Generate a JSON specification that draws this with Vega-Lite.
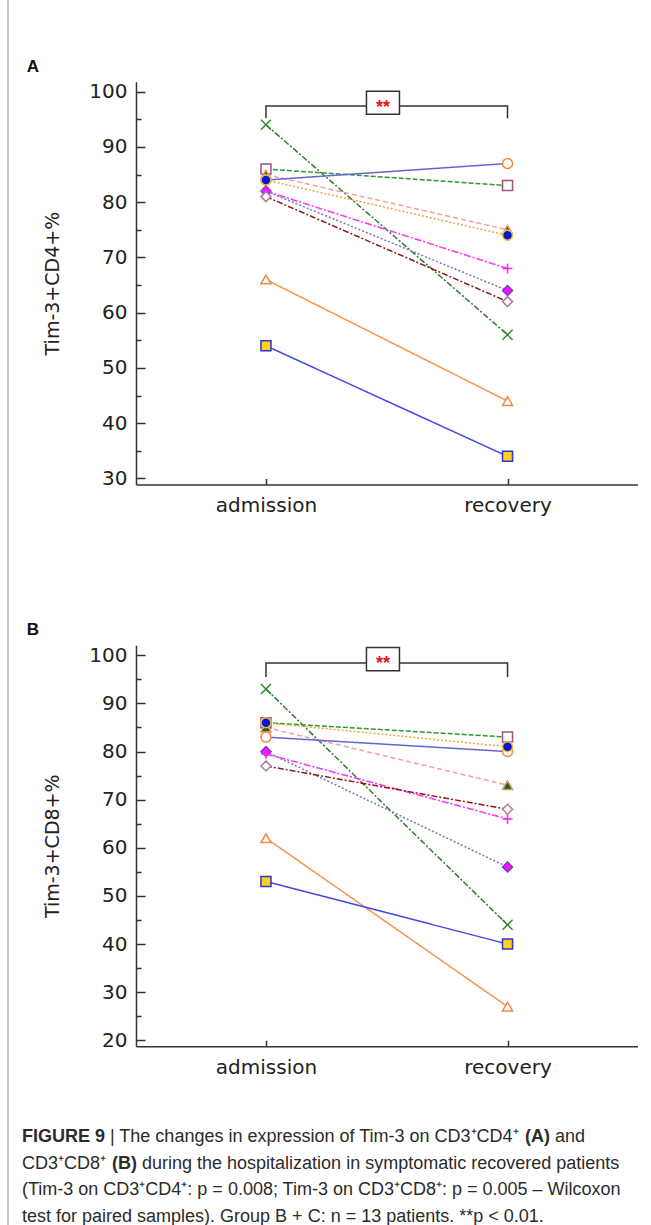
{
  "$schema": "https://vega.github.io/schema/vega-lite/v6.json",
  "width": 651,
  "height": 1225,
  "autosize": {"type": "none"},
  "padding": 0,
  "background": "white",
  "config": {"view": {"stroke": null}, "font": "Liberation Sans"},
  "datasets": {
    "A": [
      {"s": "s1", "time": "admission", "v": 94}, {"s": "s1", "time": "recovery", "v": 56},
      {"s": "s2", "time": "admission", "v": 86}, {"s": "s2", "time": "recovery", "v": 83},
      {"s": "s3", "time": "admission", "v": 85}, {"s": "s3", "time": "recovery", "v": 75},
      {"s": "s4", "time": "admission", "v": 84}, {"s": "s4", "time": "recovery", "v": 87},
      {"s": "s5", "time": "admission", "v": 84}, {"s": "s5", "time": "recovery", "v": 74},
      {"s": "s6", "time": "admission", "v": 82}, {"s": "s6", "time": "recovery", "v": 64},
      {"s": "s7", "time": "admission", "v": 82}, {"s": "s7", "time": "recovery", "v": 68},
      {"s": "s8", "time": "admission", "v": 81}, {"s": "s8", "time": "recovery", "v": 62},
      {"s": "s9", "time": "admission", "v": 66}, {"s": "s9", "time": "recovery", "v": 44},
      {"s": "s10", "time": "admission", "v": 54}, {"s": "s10", "time": "recovery", "v": 34}
    ],
    "B": [
      {"s": "s1", "time": "admission", "v": 93}, {"s": "s1", "time": "recovery", "v": 44},
      {"s": "s2", "time": "admission", "v": 86}, {"s": "s2", "time": "recovery", "v": 83},
      {"s": "s3", "time": "admission", "v": 85}, {"s": "s3", "time": "recovery", "v": 73},
      {"s": "s4", "time": "admission", "v": 83}, {"s": "s4", "time": "recovery", "v": 80},
      {"s": "s5", "time": "admission", "v": 86}, {"s": "s5", "time": "recovery", "v": 81},
      {"s": "s6", "time": "admission", "v": 80}, {"s": "s6", "time": "recovery", "v": 56},
      {"s": "s7", "time": "admission", "v": 79.5}, {"s": "s7", "time": "recovery", "v": 66},
      {"s": "s8", "time": "admission", "v": 77}, {"s": "s8", "time": "recovery", "v": 68},
      {"s": "s9", "time": "admission", "v": 62}, {"s": "s9", "time": "recovery", "v": 27},
      {"s": "s10", "time": "admission", "v": 53}, {"s": "s10", "time": "recovery", "v": 40}
    ],
    "bracketA": [
      {"i": 1, "time": "admission", "v": 95.2}, {"i": 2, "time": "admission", "v": 97.4},
      {"i": 3, "time": "recovery", "v": 97.4}, {"i": 4, "time": "recovery", "v": 95.2}
    ],
    "bracketB": [
      {"i": 1, "time": "admission", "v": 95.5}, {"i": 2, "time": "admission", "v": 98.4},
      {"i": 3, "time": "recovery", "v": 98.4}, {"i": 4, "time": "recovery", "v": 95.5}
    ],
    "starA": [{"time": "admission", "v": 98.0}],
    "starB": [{"time": "admission", "v": 99.2}],
    "cap": [
      {"seg": "L1a", "line": 1, "text": "FIGURE 9"},
      {"seg": "L1b", "line": 1, "text": "| The changes in expression of Tim-3 on CD3⁺CD4⁺"},
      {"seg": "L1c", "line": 1, "text": "(A)"},
      {"seg": "L1d", "line": 1, "text": "and"},
      {"seg": "L2a", "line": 2, "text": "CD3⁺CD8⁺"},
      {"seg": "L2b", "line": 2, "text": "(B)"},
      {"seg": "L2c", "line": 2, "text": "during the hospitalization in symptomatic recovered patients"},
      {"seg": "L3", "line": 3, "text": "(Tim-3 on CD3⁺CD4⁺: p = 0.008; Tim-3 on CD3⁺CD8⁺: p = 0.005 – Wilcoxon"},
      {"seg": "L4", "line": 4, "text": "test for paired samples). Group B + C: n = 13 patients. **p < 0.01."}
    ],
    "panels": [{"lab": "A", "pos": 1}, {"lab": "B", "pos": 2}]
  },
  "layer": [
    {
      "data": {"values": [{}]},
      "mark": {"type": "rule", "color": "#b0b0b0", "strokeWidth": 1.5},
      "encoding": {"x": {"value": 8}}
    },
    {
      "data": {"name": "panels"},
      "mark": {"type": "text", "fontWeight": "bold", "fontSize": 17, "align": "center", "baseline": "middle", "color": "#111"},
      "encoding": {
        "x": {"value": 33},
        "y": {"field": "pos", "type": "quantitative", "scale": {"domain": [1, 2], "range": [67, 630]}, "axis": null},
        "text": {"field": "lab"}
      }
    },
    {
      "data": {"name": "cap"},
      "encoding": {
        "x": {"value": 22},
        "y": {"field": "line", "type": "quantitative", "scale": {"domain": [1, 4], "range": [1137, 1216.5]}, "axis": null},
        "text": {"field": "text"}
      },
      "layer": [
        {"transform": [{"filter": "datum.seg == 'L2a' || datum.seg == 'L3' || datum.seg == 'L4'"}],
         "mark": {"type": "text", "align": "left", "baseline": "middle", "fontSize": 18, "color": "#2b2b2b"}},
        {"transform": [{"filter": "datum.seg == 'L1a'"}],
         "mark": {"type": "text", "align": "left", "baseline": "middle", "fontSize": 18, "fontWeight": "bold", "color": "#2b2b2b"}},
        {"transform": [{"filter": "datum.seg == 'L1b'"}],
         "mark": {"type": "text", "align": "left", "baseline": "middle", "fontSize": 18, "color": "#2b2b2b", "dx": 88}},
        {"transform": [{"filter": "datum.seg == 'L1c'"}],
         "mark": {"type": "text", "align": "left", "baseline": "middle", "fontSize": 18, "fontWeight": "bold", "color": "#2b2b2b", "dx": 503}},
        {"transform": [{"filter": "datum.seg == 'L1d'"}],
         "mark": {"type": "text", "align": "left", "baseline": "middle", "fontSize": 18, "color": "#2b2b2b", "dx": 533}},
        {"transform": [{"filter": "datum.seg == 'L2b'"}],
         "mark": {"type": "text", "align": "left", "baseline": "middle", "fontSize": 18, "fontWeight": "bold", "color": "#2b2b2b", "dx": 90}},
        {"transform": [{"filter": "datum.seg == 'L2c'"}],
         "mark": {"type": "text", "align": "left", "baseline": "middle", "fontSize": 18, "color": "#2b2b2b", "dx": 120}}
      ]
    },
    {
      "layer": [
        {
          "data": {"name": "A"},
          "mark": {"type": "line", "strokeWidth": 1.5},
          "encoding": {
            "x": {"field": "time", "type": "nominal", "scale": {"type": "point", "domain": ["admission", "recovery"], "range": [136, 637.5], "padding": 0.538},
                  "axis": {"orient": "bottom", "offset": -740.5, "title": null, "tickSize": -6, "tickWidth": 1.5, "tickColor": "#333", "domainColor": "#333", "domainWidth": 1.5, "labelFont": "DejaVu Sans", "labelFontSize": 20, "labelColor": "#222", "labelPadding": 17, "labelAngle": 0, "grid": false}},
            "y": {"field": "v", "type": "quantitative", "scale": {"domain": [28.9, 101.8], "range": [484.5, 81.7], "nice": false, "zero": false},
                  "axis": {"orient": "left", "offset": -136, "values": [30, 40, 50, 60, 70, 80, 90, 100], "tickSize": -9, "tickWidth": 1.5, "tickColor": "#333", "domainColor": "#333", "domainWidth": 1.5, "labelFont": "DejaVu Sans", "labelFontSize": 20, "labelColor": "#222", "labelPadding": 18, "grid": false, "title": "Tim-3+CD4+%", "titleFont": "DejaVu Sans", "titleFontSize": 19, "titleFontWeight": "normal", "titleColor": "#222", "titlePadding": 26}},
            "color": {"field": "s", "type": "nominal", "legend": null, "scale": {"domain": ["s1", "s2", "s3", "s4", "s5", "s6", "s7", "s8", "s9", "s10"], "range": ["#2d7d2d", "#2a9a2a", "#f4a0a0", "#6464d2", "#f2a23c", "#7878b4", "#ff30ff", "#8b1a1a", "#f5964f", "#4646e6"]}},
            "strokeDash": {"field": "s", "type": "nominal", "legend": null, "scale": {"domain": ["s1", "s2", "s3", "s4", "s5", "s6", "s7", "s8", "s9", "s10"], "range": [[6, 2, 2, 2], [5, 2], [5, 3], [1, 0], [2, 2], [2, 2], [7, 2, 2, 2], [6, 2, 2, 2], [1, 0], [1, 0]]}}
          }
        },
        {
          "data": {"name": "A"},
          "mark": {"type": "point", "filled": true, "size": 100, "strokeWidth": 1.5, "opacity": 1},
          "encoding": {
            "x": {"field": "time", "type": "nominal", "axis": null},
            "y": {"field": "v", "type": "quantitative",
                  "axis": {"orient": "left", "offset": -136, "values": [35, 45, 55, 65, 75, 85, 95], "tickSize": -5, "tickWidth": 1.5, "tickColor": "#333", "labels": false, "domain": false, "title": null, "grid": false}},
            "shape": {"field": "s", "type": "nominal", "legend": null, "scale": {"domain": ["s1", "s2", "s3", "s4", "s5", "s6", "s7", "s8", "s9", "s10"], "range": ["M-1,-1L1,1M-1,1L1,-1", "square", "triangle-up", "circle", "circle", "diamond", "M-1,0L1,0M0,-1L0,1", "diamond", "triangle-up", "square"]}},
            "fill": {"field": "s", "type": "nominal", "legend": null, "scale": {"domain": ["s1", "s2", "s3", "s4", "s5", "s6", "s7", "s8", "s9", "s10"], "range": ["transparent", "#ffffff", "#0b6b12", "#ffffff", "#0a14e0", "#ff10ff", "transparent", "#ffffff", "#ffffff", "#ffd21a"]}},
            "stroke": {"field": "s", "type": "nominal", "legend": null, "scale": {"domain": ["s1", "s2", "s3", "s4", "s5", "s6", "s7", "s8", "s9", "s10"], "range": ["#2d8a2d", "#a4507e", "#e0906a", "#f08a40", "#e8c830", "#7a3cc8", "#ff20ff", "#b47a9a", "#f08a40", "#3232d2"]}}
          }
        },
        {
          "data": {"name": "bracketA"},
          "mark": {"type": "line", "color": "#333", "strokeWidth": 1.5},
          "encoding": {
            "x": {"field": "time", "type": "nominal", "axis": null},
            "y": {"field": "v", "type": "quantitative", "axis": null},
            "order": {"field": "i", "type": "quantitative"}
          }
        },
        {
          "data": {"name": "starA"},
          "mark": {"type": "point", "shape": "M6.0909,-0.7L8.0909,-0.7L8.0909,0.7L6.0909,0.7Z", "size": 1089, "filled": true, "fill": "white", "stroke": "#333", "strokeWidth": 1.5, "opacity": 1},
          "encoding": {
            "x": {"field": "time", "type": "nominal", "axis": null},
            "y": {"field": "v", "type": "quantitative", "axis": null}
          }
        },
        {
          "data": {"name": "starA"},
          "mark": {"type": "text", "text": "**", "color": "#e8141c", "fontSize": 18, "fontWeight": "bold", "align": "center", "baseline": "middle", "dx": 117, "dy": 5},
          "encoding": {
            "x": {"field": "time", "type": "nominal", "axis": null},
            "y": {"field": "v", "type": "quantitative", "axis": null}
          }
        }
      ],
      "resolve": {"axis": {"x": "independent", "y": "independent"}}
    },
    {
      "layer": [
        {
          "data": {"name": "B"},
          "mark": {"type": "line", "strokeWidth": 1.5},
          "encoding": {
            "x": {"field": "time", "type": "nominal", "scale": {"type": "point", "domain": ["admission", "recovery"], "range": [136, 637.5], "padding": 0.538},
                  "axis": {"orient": "bottom", "offset": -178.7, "title": null, "tickSize": -6, "tickWidth": 1.5, "tickColor": "#333", "domainColor": "#333", "domainWidth": 1.5, "labelFont": "DejaVu Sans", "labelFontSize": 20, "labelColor": "#222", "labelPadding": 17, "labelAngle": 0, "grid": false}},
            "y": {"field": "v", "type": "quantitative", "scale": {"domain": [18.75, 102.1], "range": [1046.3, 645.2], "nice": false, "zero": false},
                  "axis": {"orient": "left", "offset": -136, "values": [20, 30, 40, 50, 60, 70, 80, 90, 100], "tickSize": -9, "tickWidth": 1.5, "tickColor": "#333", "domainColor": "#333", "domainWidth": 1.5, "labelFont": "DejaVu Sans", "labelFontSize": 20, "labelColor": "#222", "labelPadding": 18, "grid": false, "title": "Tim-3+CD8+%", "titleFont": "DejaVu Sans", "titleFontSize": 19, "titleFontWeight": "normal", "titleColor": "#222", "titlePadding": 26}},
            "color": {"field": "s", "type": "nominal", "legend": null, "scale": {"domain": ["s1", "s2", "s3", "s4", "s5", "s6", "s7", "s8", "s9", "s10"], "range": ["#2d7d2d", "#2a9a2a", "#f4a0a0", "#6464d2", "#f2a23c", "#7878b4", "#ff30ff", "#8b1a1a", "#f5964f", "#4646e6"]}},
            "strokeDash": {"field": "s", "type": "nominal", "legend": null, "scale": {"domain": ["s1", "s2", "s3", "s4", "s5", "s6", "s7", "s8", "s9", "s10"], "range": [[6, 2, 2, 2], [5, 2], [5, 3], [1, 0], [2, 2], [2, 2], [7, 2, 2, 2], [6, 2, 2, 2], [1, 0], [1, 0]]}}
          }
        },
        {
          "data": {"name": "B"},
          "mark": {"type": "point", "filled": true, "size": 100, "strokeWidth": 1.5, "opacity": 1},
          "encoding": {
            "x": {"field": "time", "type": "nominal", "axis": null},
            "y": {"field": "v", "type": "quantitative",
                  "axis": {"orient": "left", "offset": -136, "values": [25, 35, 45, 55, 65, 75, 85, 95], "tickSize": -5, "tickWidth": 1.5, "tickColor": "#333", "labels": false, "domain": false, "title": null, "grid": false}},
            "shape": {"field": "s", "type": "nominal", "legend": null, "scale": {"domain": ["s1", "s2", "s3", "s4", "s5", "s6", "s7", "s8", "s9", "s10"], "range": ["M-1,-1L1,1M-1,1L1,-1", "square", "triangle-up", "circle", "circle", "diamond", "M-1,0L1,0M0,-1L0,1", "diamond", "triangle-up", "square"]}},
            "fill": {"field": "s", "type": "nominal", "legend": null, "scale": {"domain": ["s1", "s2", "s3", "s4", "s5", "s6", "s7", "s8", "s9", "s10"], "range": ["transparent", "#ffffff", "#0b6b12", "#ffffff", "#0a14e0", "#ff10ff", "transparent", "#ffffff", "#ffffff", "#ffd21a"]}},
            "stroke": {"field": "s", "type": "nominal", "legend": null, "scale": {"domain": ["s1", "s2", "s3", "s4", "s5", "s6", "s7", "s8", "s9", "s10"], "range": ["#2d8a2d", "#a4507e", "#e0906a", "#f08a40", "#e8c830", "#7a3cc8", "#ff20ff", "#b47a9a", "#f08a40", "#3232d2"]}}
          }
        },
        {
          "data": {"name": "bracketB"},
          "mark": {"type": "line", "color": "#333", "strokeWidth": 1.5},
          "encoding": {
            "x": {"field": "time", "type": "nominal", "axis": null},
            "y": {"field": "v", "type": "quantitative", "axis": null},
            "order": {"field": "i", "type": "quantitative"}
          }
        },
        {
          "data": {"name": "starB"},
          "mark": {"type": "point", "shape": "M6.0909,-0.7L8.0909,-0.7L8.0909,0.7L6.0909,0.7Z", "size": 1089, "filled": true, "fill": "white", "stroke": "#333", "strokeWidth": 1.5, "opacity": 1},
          "encoding": {
            "x": {"field": "time", "type": "nominal", "axis": null},
            "y": {"field": "v", "type": "quantitative", "axis": null}
          }
        },
        {
          "data": {"name": "starB"},
          "mark": {"type": "text", "text": "**", "color": "#e8141c", "fontSize": 18, "fontWeight": "bold", "align": "center", "baseline": "middle", "dx": 117, "dy": 5},
          "encoding": {
            "x": {"field": "time", "type": "nominal", "axis": null},
            "y": {"field": "v", "type": "quantitative", "axis": null}
          }
        }
      ],
      "resolve": {"axis": {"x": "independent", "y": "independent"}}
    }
  ],
  "resolve": {
    "scale": {"x": "independent", "y": "independent"},
    "axis": {"x": "independent", "y": "independent"}
  }
}
